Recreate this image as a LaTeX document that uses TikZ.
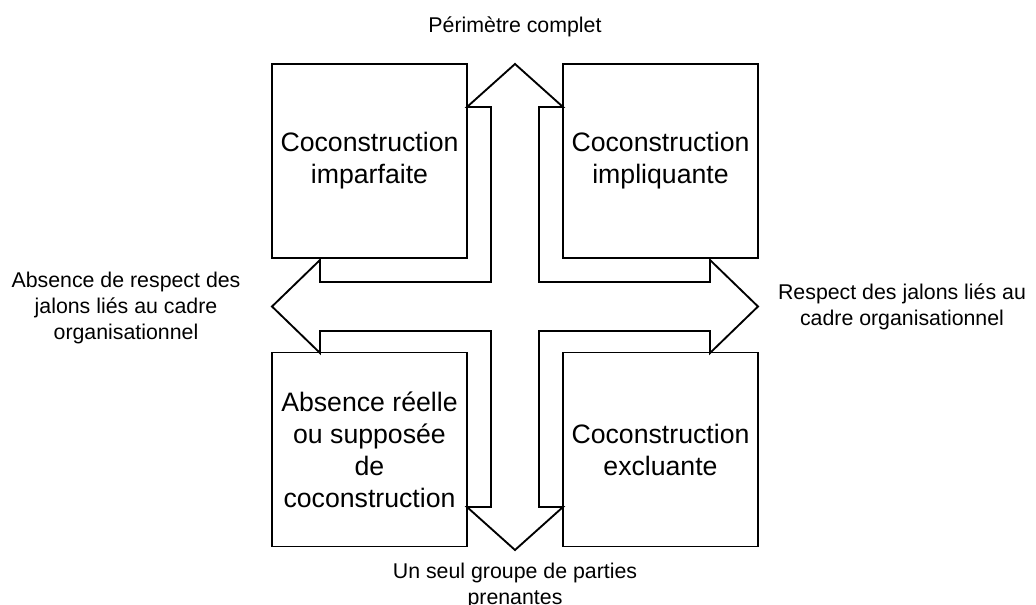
\documentclass[tikz,border=0pt]{standalone}
\usepackage{fontspec}
\setmainfont{Liberation Sans}

\begin{document}
\begin{tikzpicture}[x=0.75pt,y=-0.75pt]

        \fill[white] (0,0) rectangle (1036,605);
        \useasboundingbox (0,0) rectangle (1036,605);

        % cross with four arrow heads
        \draw[line width=1.4pt,line join=miter]
          (515,64) -- (563,107) -- (539,107) -- (539,282) -- (710,282)
          -- (710,260) -- (758,306.5) -- (710,353) -- (710,331) -- (539,331)
          -- (539,507) -- (563,507) -- (515,550) -- (467,507) -- (491,507)
          -- (491,331) -- (320,331) -- (320,353) -- (272,306.5) -- (320,260)
          -- (320,282) -- (491,282) -- (491,107) -- (467,107) -- cycle;

        \begin{scope}[every node/.style={rectangle,draw,line width=1.4pt,
            minimum width=146.25pt,minimum height=145.5pt,inner sep=0pt,
            align=center,font=\fontsize{20}{24}\selectfont}]
          \node (1)  at (369.5,161)   {Coconstruction\\imparfaite};
          \node (2)  at (660.5,161)   {Coconstruction\\impliquante};
          \node (3)  at (369.5,449.5) {Absence réelle\\ou supposée\\de\\coconstruction};
          \node (4)  at (660.5,449.5) {Coconstruction\\excluante};
        \end{scope}

        \begin{scope}[every node/.style={align=center,inner sep=0pt,
            font=\fontsize{16}{19.4}\selectfont}]
          \node (5)  at (515,27)    {Périmètre complet};
          \node (6)  at (126,308)   {Absence de respect des\\jalons liés au cadre\\organisationnel};
          \node (7)  at (902,307)   {Respect des jalons liés au\\cadre organisationnel};
          \node (8)  at (515,586)   {Un seul groupe de parties\\prenantes};
        \end{scope}

      \end{tikzpicture}
\end{document}
